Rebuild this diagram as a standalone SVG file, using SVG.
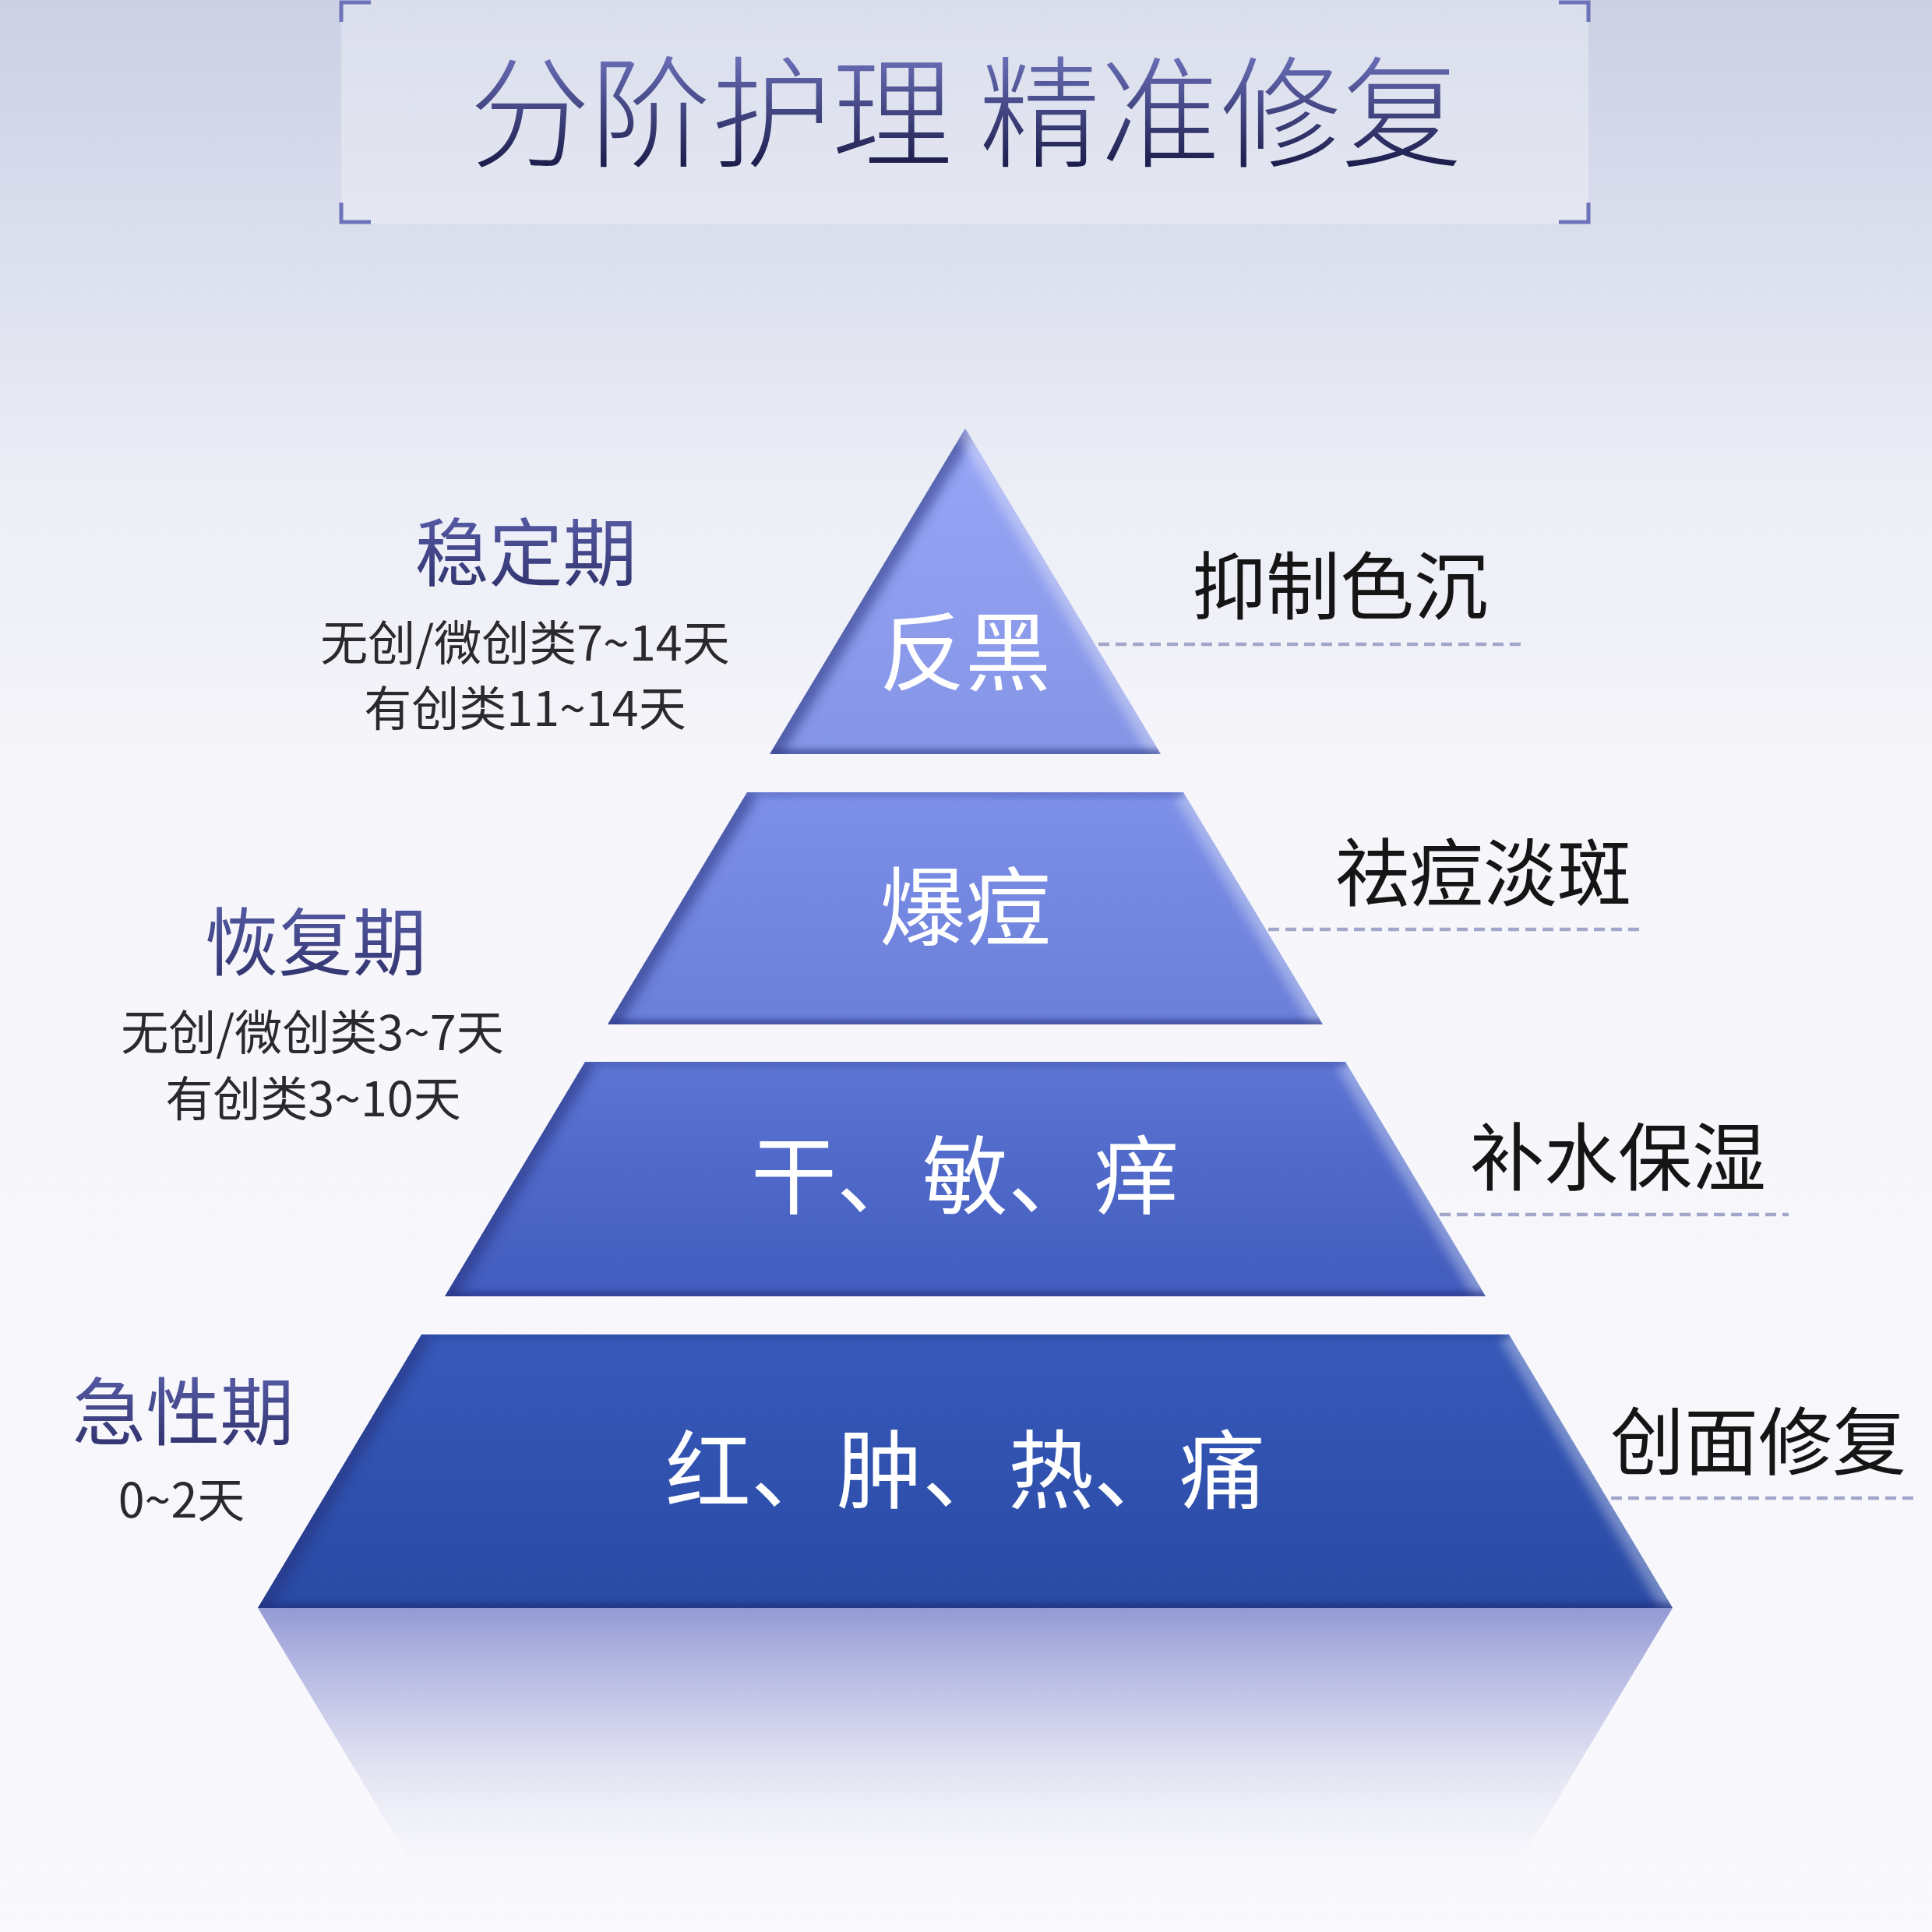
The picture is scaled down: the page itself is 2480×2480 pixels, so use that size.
<svg xmlns="http://www.w3.org/2000/svg" width="2480" height="2480" viewBox="0 0 2480 2480">
<defs>
<style>
.cjk{font-family:"Noto Sans CJK SC","Noto Sans",sans-serif;}
.tier-text{fill:#ffffff;font-size:110px;text-anchor:middle;}
.right-label{fill:#151515;font-size:95px;}
.stage{font-size:95px;text-anchor:middle;fill:url(#stageGrad);}
.sub{font-size:61px;text-anchor:middle;fill:#2a2a2e;}
.dash{stroke:#a2a6ca;stroke-width:4.5;stroke-dasharray:14 8;fill:none;}
.bracket{stroke:#6c73b8;stroke-width:5;fill:none;}
.edge-dark{fill:none;stroke:#28307a;stroke-width:28;opacity:0.55;filter:url(#blur);}
.edge-light{fill:none;stroke:#ffffff;stroke-width:26;opacity:0.35;filter:url(#blur);}
.edge-bottom{fill:none;stroke:#1f2870;stroke-width:14;opacity:0.45;filter:url(#blurS);}
</style>
<linearGradient id="bg" x1="0" y1="0" x2="0" y2="2480" gradientUnits="userSpaceOnUse">
<stop offset="0" stop-color="#cbd0e4"/>
<stop offset="0.12" stop-color="#dadeed"/>
<stop offset="0.25" stop-color="#eceef6"/>
<stop offset="0.4" stop-color="#f5f5fa"/>
<stop offset="1" stop-color="#f9f9fd"/>
</linearGradient>
<linearGradient id="titleGrad" x1="0" y1="70" x2="0" y2="215" gradientUnits="userSpaceOnUse">
<stop offset="0" stop-color="#6a6fb8"/>
<stop offset="1" stop-color="#1b1c4a"/>
</linearGradient>
<linearGradient id="stageGrad" x1="0" y1="0" x2="0" y2="1">
<stop offset="0" stop-color="#5f64b2"/>
<stop offset="1" stop-color="#2b2e66"/>
</linearGradient>
<linearGradient id="g1" x1="0" y1="550" x2="0" y2="968" gradientUnits="userSpaceOnUse">
<stop offset="0" stop-color="#97a5f6"/>
<stop offset="1" stop-color="#8595e6"/>
</linearGradient>
<linearGradient id="g2" x1="0" y1="1017" x2="0" y2="1315" gradientUnits="userSpaceOnUse">
<stop offset="0" stop-color="#7d90e8"/>
<stop offset="1" stop-color="#6a7fd9"/>
</linearGradient>
<linearGradient id="g3" x1="0" y1="1363" x2="0" y2="1664" gradientUnits="userSpaceOnUse">
<stop offset="0" stop-color="#5d75d4"/>
<stop offset="1" stop-color="#415cbd"/>
</linearGradient>
<linearGradient id="g4" x1="0" y1="1713" x2="0" y2="2064" gradientUnits="userSpaceOnUse">
<stop offset="0" stop-color="#3759b9"/>
<stop offset="1" stop-color="#2a4aa4"/>
</linearGradient>
<linearGradient id="refl" x1="0" y1="2064" x2="0" y2="2440" gradientUnits="userSpaceOnUse">
<stop offset="0" stop-color="#8e95d2" stop-opacity="0.95"/>
<stop offset="0.3" stop-color="#b4b8e2" stop-opacity="0.8"/>
<stop offset="0.6" stop-color="#dcdcf0" stop-opacity="0.6"/>
<stop offset="1" stop-color="#f9f9fd" stop-opacity="0"/>
</linearGradient>
<filter id="blur" filterUnits="userSpaceOnUse" x="0" y="0" width="2480" height="2480">
<feGaussianBlur stdDeviation="7"/>
</filter>
<filter id="blurS" filterUnits="userSpaceOnUse" x="0" y="0" width="2480" height="2480">
<feGaussianBlur stdDeviation="3"/>
</filter>
<clipPath id="c1"><polygon points="1239,550 1490,968 988,968"/></clipPath>
<clipPath id="c2"><polygon points="959,1017 1519,1017 1698,1315 780,1315"/></clipPath>
<clipPath id="c3"><polygon points="751,1363 1727,1363 1907,1664 571,1664"/></clipPath>
<clipPath id="c4"><polygon points="541,1713 1937,1713 2147,2064 331,2064"/></clipPath>
</defs>

<rect x="0" y="0" width="2480" height="2480" fill="url(#bg)"/>

<g id="title">
<rect x="438" y="-10" width="1601" height="297" fill="#ffffff" opacity="0.3"/>
<path class="bracket" d="M476,3 H438 V28"/>
<path class="bracket" d="M2001,3 H2039 V28"/>
<path class="bracket" d="M438,260 V285 H476"/>
<path class="bracket" d="M2039,260 V285 H2001"/>
<text class="cjk" x="1240" y="202" font-size="155" font-weight="300" text-anchor="middle" fill="url(#titleGrad)">分阶护理 精准修复</text>
</g>

<g id="reflection">
<polygon points="331,2064 2147,2064 1897,2480 581,2480" fill="url(#refl)"/>
</g>

<g id="tier1">
<polygon points="1239,550 1490,968 988,968" fill="url(#g1)"/>
<g clip-path="url(#c1)">
<line class="edge-dark" x1="1239" y1="550" x2="988" y2="968"/>
<line class="edge-light" x1="1239" y1="550" x2="1490" y2="968"/>
<line class="edge-bottom" x1="988" y1="968" x2="1490" y2="968"/>
</g>
<text class="cjk tier-text" x="1239" y="878" font-size="106">反黑</text>
</g>

<g id="tier2">
<polygon points="959,1017 1519,1017 1698,1315 780,1315" fill="url(#g2)"/>
<g clip-path="url(#c2)">
<line class="edge-dark" x1="959" y1="1017" x2="780" y2="1315"/>
<line class="edge-light" x1="1519" y1="1017" x2="1698" y2="1315"/>
<line class="edge-bottom" x1="780" y1="1315" x2="1698" y2="1315"/>
<line class="edge-bottom" x1="959" y1="1017" x2="1519" y2="1017" style="opacity:0.2"/>
</g>
<text class="cjk tier-text" x="1239" y="1205">爆痘</text>
</g>

<g id="tier3">
<polygon points="751,1363 1727,1363 1907,1664 571,1664" fill="url(#g3)"/>
<g clip-path="url(#c3)">
<line class="edge-dark" x1="751" y1="1363" x2="571" y2="1664"/>
<line class="edge-light" x1="1727" y1="1363" x2="1907" y2="1664"/>
<line class="edge-bottom" x1="571" y1="1664" x2="1907" y2="1664"/>
<line class="edge-bottom" x1="751" y1="1363" x2="1727" y2="1363" style="opacity:0.2"/>
</g>
<text class="cjk tier-text" x="1239" y="1550">干、敏、痒</text>
</g>

<g id="tier4">
<polygon points="541,1713 1937,1713 2147,2064 331,2064" fill="url(#g4)"/>
<g clip-path="url(#c4)">
<line class="edge-dark" x1="541" y1="1713" x2="331" y2="2064"/>
<line class="edge-light" x1="1937" y1="1713" x2="2147" y2="2064"/>
<line class="edge-bottom" x1="331" y1="2064" x2="2147" y2="2064"/>
<line class="edge-bottom" x1="541" y1="1713" x2="1937" y2="1713" style="opacity:0.2"/>
</g>
<text class="cjk tier-text" x="1239" y="1928">红、肿、热、痛</text>
</g>

<g id="connectors">
<line class="dash" x1="1410" y1="827" x2="1953" y2="827"/>
<line class="dash" x1="1628" y1="1193" x2="2112" y2="1193"/>
<line class="dash" x1="1848" y1="1559" x2="2296" y2="1559"/>
<line class="dash" x1="2068" y1="1923" x2="2460" y2="1923"/>
</g>

<g id="label-stable">
<text class="cjk stage" x="675" y="745">稳定期</text>
<text class="cjk sub" x="674" y="848">无创/微创类7~14天</text>
<text class="cjk sub" x="674" y="932">有创类11~14天</text>
</g>
<g id="label-recovery">
<text class="cjk stage" x="405" y="1245">恢复期</text>
<text class="cjk sub" x="401" y="1348">无创/微创类3~7天</text>
<text class="cjk sub" x="402" y="1433">有创类3~10天</text>
</g>
<g id="label-acute">
<text class="cjk stage" x="235" y="1848">急性期</text>
<text class="cjk sub" x="233" y="1948" font-size="64">0~2天</text>
</g>

<g id="effect-1"><text class="cjk right-label" x="1530" y="788">抑制色沉</text></g>
<g id="effect-2"><text class="cjk right-label" x="1714" y="1156">祛痘淡斑</text></g>
<g id="effect-3"><text class="cjk right-label" x="1887" y="1521">补水保湿</text></g>
<g id="effect-4"><text class="cjk right-label" x="2067" y="1886">创面修复</text></g>
</svg>
